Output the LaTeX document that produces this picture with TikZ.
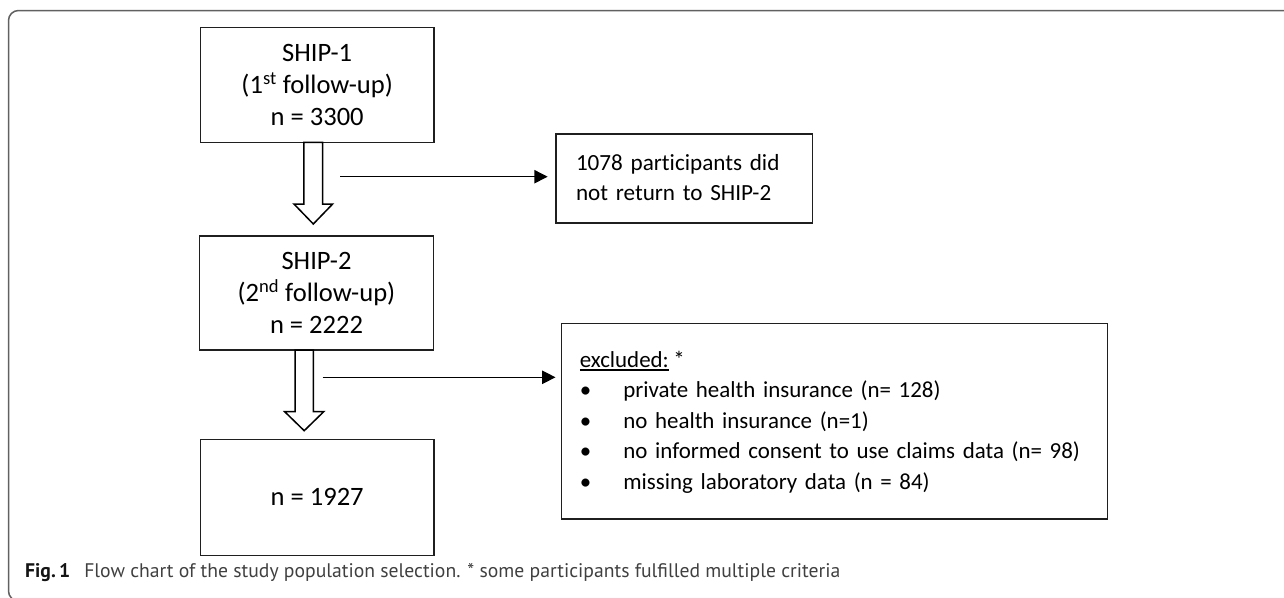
\documentclass[tikz,border=0pt]{standalone}
\usepackage{fontspec}
\setmainfont{Carlito}[Ligatures=NoCommon]
\newfontfamily\capfont{PT Sans}
\usetikzlibrary{arrows.meta,calc}
\newlength\myulw
\newcommand\myul[1]{\settowidth{\myulw}{#1}\rlap{\rule[-3.5pt]{\myulw}{1.5pt}}#1}
\newdimen\fitw
\newcommand\fitsize[4]{\setbox0=\hbox{\normalfont#2\fontsize{10}{12}\selectfont #3}\fitw=\wd0\relax\pgfmathsetmacro#1{10*#4/\the\fitw}}
\newcommand\bul{\makebox[43.6pt][l]{\textbullet}}
\newcommand\down[2]{\raisebox{-#1pt}[\height][\depth]{#2}}
\begin{document}
\fitsize\bigsize{}{n = 3300}{93}%
\fitsize\retsize{}{1078 participants did}{198.5}%
\fitsize\smallsize{}{no informed consent to use claims data (n= 98)}{437}%
\fitsize\capsize{\capfont}{Flow chart of the study population selection. * some participants fulfilled multiple criteria}{756}%
\begin{tikzpicture}[x=1pt,y=-1pt,
  box/.style={draw=black!88, line width=1.3pt, inner sep=0pt},
  bigtxt/.style={font=\fontsize{\bigsize}{32}\selectfont},
  rettxt/.style={font=\fontsize{\retsize}{30}\selectfont, align=left},
  smalltxt/.style={font=\fontsize{\smallsize}{30.5}\selectfont, align=left},
  thinarrow/.style={line width=1.3pt, draw=black, -{Triangle[length=13.3pt,width=13.3pt]}},
  hollow/.style={draw=black, line width=1.5pt, fill=white, line join=miter},
  frame/.style={draw=black!62, line width=1.5pt, rounded corners=10pt}
]
\useasboundingbox (0,0) rectangle (1284,597);
\draw[frame] (1290,10.5) -- (8.5,10.5) -- (8.5,601) -- (1290,601);

\node[box, bigtxt, minimum width=233.5pt, minimum height=115pt] (ship1) at (317.2,84.8)
  {\down{2}{\begin{tabular}{@{}c@{}}SHIP-1\\(1\textsuperscript{st} follow-up)\\n = 3300\end{tabular}}};
\node[box, bigtxt, minimum width=233.7pt, minimum height=114pt] (ship2) at (316.5,293)
  {\down{1.8}{\begin{tabular}{@{}c@{}}SHIP-2\\(2\textsuperscript{nd} follow-up)\\n = 2222\end{tabular}}};
\node[box, bigtxt, minimum width=233.6pt, minimum height=116.4pt] (final) at (317.2,497.5)
  {\down{1.3}{\begin{tabular}{@{}c@{}}n = 1927\end{tabular}}};
\node[box, rettxt, text width=216.7pt, inner xsep=20pt, minimum height=89pt] (ret) at (684.35,178.5)
  {\down{0.9}{\begin{tabular}{@{}l@{}}1078 participants did\\not return to SHIP-2\end{tabular}}};
\node[box, smalltxt, text width=509.7pt, inner xsep=18pt, minimum height=195.7pt] (excl) at (834.6,421.15)
  {\down{1}{\begin{tabular}{@{}l@{}}
   \myul{excluded:}\hspace{0.2em}*\\
   \bul private health insurance (n= 128)\\
   \bul no health insurance (n=1)\\
   \bul no informed consent to use claims data (n= 98)\\
   \bul missing laboratory data (n = 84)
   \end{tabular}}};

% hollow block arrows
\coordinate (h1) at (313.3,142.3);
\draw[hollow] (h1) ++(-9.35,0) -- ++(0,61.7) -- ++(-10,0) -- (h1 |- 0,224) -- ++(19.35,-20) -- ++(-10,0) -- ++(0,-61.7) -- cycle;
\coordinate (h2) at (304.2,350);
\draw[hollow] (h2) ++(-9.15,0) -- ++(0,61.7) -- ++(-10.35,0) -- (h2 |- 0,430.7) -- ++(19.5,-19) -- ++(-10.35,0) -- ++(0,-61.7) -- cycle;

% thin arrows
\coordinate (s1) at (340,176.7);
\draw[thinarrow, shorten >=7.7pt] (s1) -- (s1 -| ret.west);
\coordinate (s2) at (322.7,377.3);
\draw[thinarrow, shorten >=5.6pt] (s2) -- (s2 -| excl.west);

\node[anchor=base west, inner sep=0pt, font=\capfont\fontsize{\capsize}{19}\selectfont] (cap) at (25,577.3)
  {\textcolor{black!92}{\textbf{Fig.\,1}}\hspace{14pt}\textcolor{black!75}{Flow chart of the study population selection. * some participants fulfilled multiple criteria}};
\end{tikzpicture}
\end{document}
